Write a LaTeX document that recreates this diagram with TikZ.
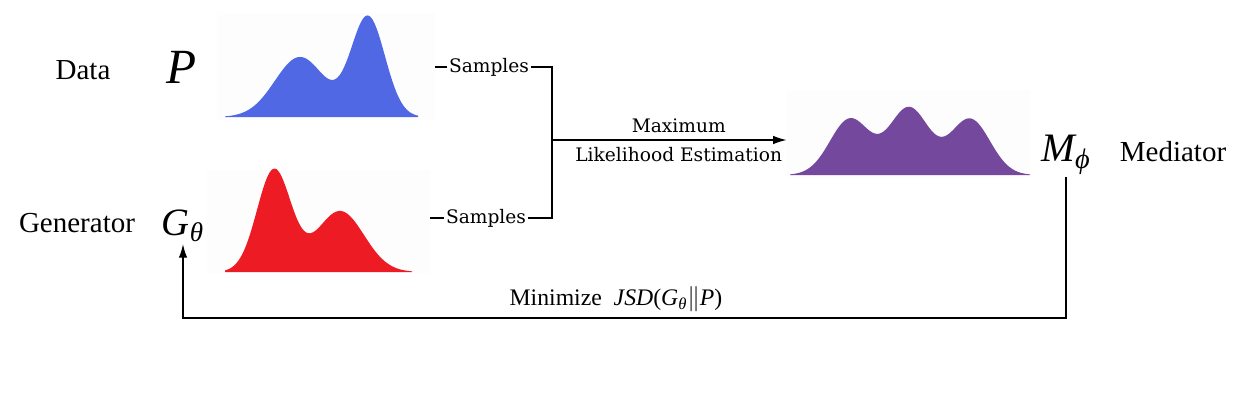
\documentclass[tikz,border=0pt]{standalone}
\usepackage{amsmath}
\usepackage{fontspec}
\setmainfont{Liberation Serif}
\newfontfamily\samplefont{DejaVu Serif}
\usetikzlibrary{arrows.meta, positioning, calc}
\definecolor{DataBlue}{RGB}{80,104,228}
\definecolor{GenRed}{RGB}{237,28,36}
\definecolor{MedPurple}{RGB}{116,72,157}
\definecolor{PlotBg}{RGB}{253,253,254}

\begin{document}
\begin{tikzpicture}[
  x=0.02cm, y=-0.02cm,
  rolelbl/.style={font=\fontsize{16.5}{18}\selectfont},
  sym/.style={font=\fontsize{22}{24}\selectfont, inner sep=1pt},
  plotbox/.style={rectangle, fill=PlotBg, inner sep=0pt},
  edgelbl/.style={font=\samplefont\fontsize{10.6}{12}\selectfont, inner sep=1pt},
  line/.style={line width=0.75pt},
  arrow/.style={line width=0.75pt, -{Latex[length=2.7mm,width=1.7mm]}}
]
\useasboundingbox (0,0) rectangle (1251,400);

% the three densities
\node[plotbox, minimum width=4.36cm, minimum height=2.14cm] (pdist) at (326,66.5) {};
\node[plotbox, minimum width=4.46cm, minimum height=2.06cm] (gdist) at (318.5,221.5) {};
\node[plotbox, minimum width=4.86cm, minimum height=1.76cm] (mdist) at (908.5,134) {};

\fill[DataBlue] (225,117) -- plot[domain=225:418, samples=150, smooth]
  (\x, {117-60*exp(-0.5*(((\x-300)/25)^2))-100*exp(-0.5*(((\x-368)/17)^2))}) -- (418,117) -- cycle;
\fill[GenRed] (225,272) -- plot[domain=225:412, samples=150, smooth]
  (\x, {272-102*exp(-0.5*(((\x-274)/17)^2))-61*exp(-0.5*(((\x-340)/24)^2))}) -- (412,272) -- cycle;
\fill[MedPurple] (790,175) -- plot[domain=790:1030, samples=150, smooth]
  (\x, {175-56*exp(-0.5*(((\x-850)/20)^2))-67*exp(-0.5*(((\x-909)/20)^2))-56*exp(-0.5*(((\x-970)/20)^2))}) -- (1030,175) -- cycle;

% names and symbols
\node[rolelbl] (datalbl) at (83,70) {Data};
\node[sym, font=\fontsize{28}{30}\selectfont] (P) at (182,67) {\textit{P}};
\node[rolelbl] (genlbl) at (77,223) {Generator};
\node[sym] (G) at (183,226) {$\textit{G}_{\textit{θ}}$};
\node[sym, font=\fontsize{23}{25}\selectfont] (M) at (1066,155) {$\textit{M}_{\textit{ϕ}}$};
\node[rolelbl] (medlbl) at (1173,152) {Mediator};

% sampling and estimation
\node[edgelbl] (s1) at (489,67) {Samples};
\node[edgelbl] (s2) at (486,218) {Samples};
\coordinate (fork) at (552,140);
\draw[line] (pdist.east |- s1.west) -- (s1.west);
\draw[line] (gdist.east |- s2.west) -- (s2.west);
\draw[line] (s1.east) -| (fork) |- (s2.east);
\draw[arrow] (fork) -- (fork -| mdist.west)
  node[edgelbl, pos=0.54, above=2.5pt] {Maximum}
  node[edgelbl, pos=0.54, below=3pt] {Likelihood Estimation};

% feedback to the generator
\coordinate (loopc) at (620,318);
\draw[arrow] (M.south) |- (loopc) -| (G.south);
\node[font=\fontsize{13.5}{15}\selectfont] (minlbl) at (616,299)
  {Minimize\enspace\textit{JSD}(\textit{G}$_{\textit{θ}}\|$\textit{P})};
\end{tikzpicture}
\end{document}
